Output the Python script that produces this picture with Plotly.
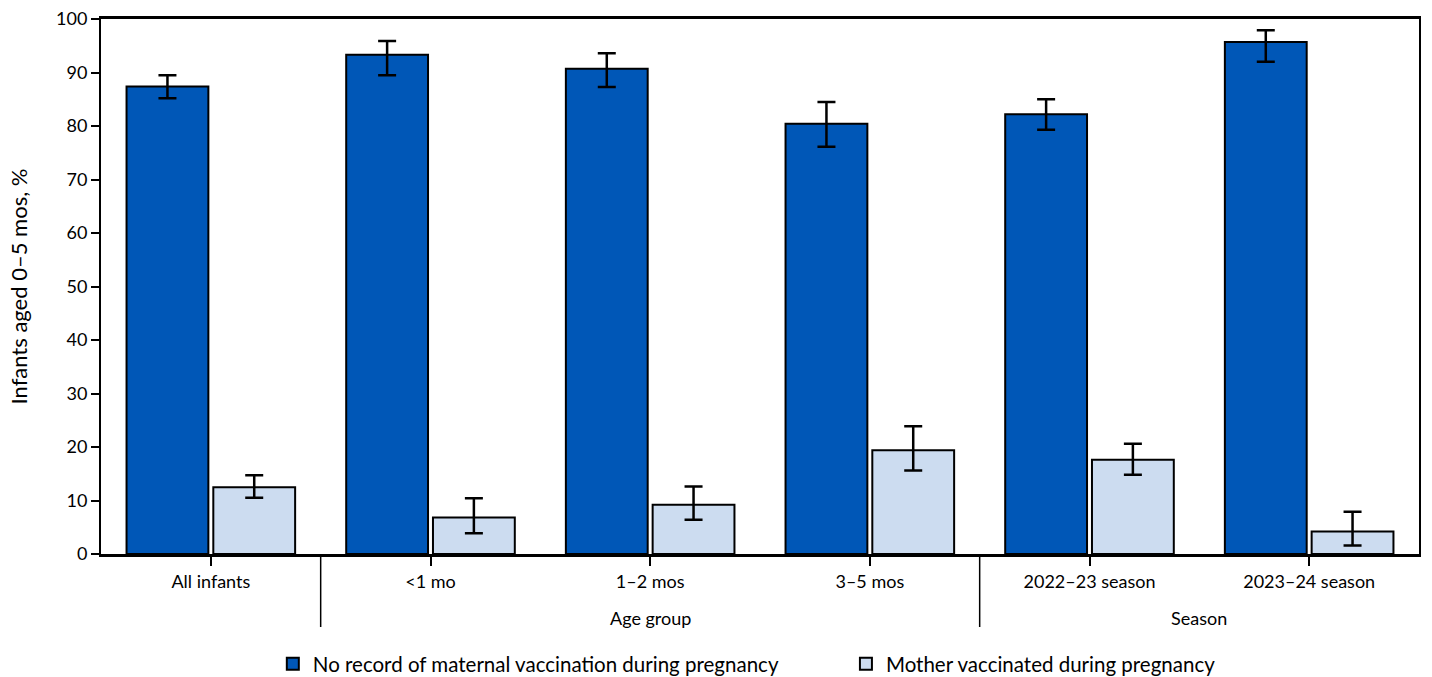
import plotly.graph_objects as go

categories = ["All infants", "<1 mo", "1–2 mos", "3–5 mos", "2022–23 season", "2023–24 season"]
no_record = [87.4, 93.3, 90.7, 80.4, 82.2, 95.7]
no_record_lo = [85.2, 89.5, 87.3, 76.1, 79.3, 92.0]
no_record_hi = [89.5, 95.9, 93.6, 84.5, 85.0, 97.9]
vaccinated = [12.5, 6.8, 9.2, 19.4, 17.6, 4.2]
vaccinated_lo = [10.5, 3.9, 6.4, 15.6, 14.8, 1.6]
vaccinated_hi = [14.7, 10.4, 12.6, 23.9, 20.6, 7.9]
series_names = ["No record of maternal vaccination during pregnancy", "Mother vaccinated during pregnancy"]
group_labels = ["Age group", "Season"]
group_spans = [(1, 3), (4, 5)]  # category index ranges
separators = [0.5, 3.5]
y_ticks = [0, 10, 20, 30, 40, 50, 60, 70, 80, 90, 100]

FONT = "Lato"
DARK = "#0057B7"
LIGHT = "#CCDCF0"

def err(vals, lo, hi):
    return dict(type="data", symmetric=False,
                array=[h - v for v, h in zip(vals, hi)],
                arrayminus=[v - l for v, l in zip(vals, lo)],
                color="black", thickness=2.5, width=9)

fig = go.Figure()
fig.add_trace(go.Bar(x=categories, y=no_record, name=series_names[0] + "\u00a0" * 12,
                     marker=dict(color=DARK, line=dict(color="black", width=2)),
                     error_y=err(no_record, no_record_lo, no_record_hi)))
fig.add_trace(go.Bar(x=categories, y=vaccinated, name=series_names[1],
                     marker=dict(color=LIGHT, line=dict(color="black", width=2)),
                     error_y=err(vaccinated, vaccinated_lo, vaccinated_hi)))

shapes = []
for s in separators:
    shapes.append(dict(type="line", xref="x", yref="paper", x0=s, x1=s, y0=0, y1=-0.1365,
                       line=dict(color="black", width=1.5)))
annotations = []
for lab, (a, b) in zip(group_labels, group_spans):
    annotations.append(dict(text=lab, xref="x", yref="paper", x=(a + b) / 2, y=-0.12,
                            showarrow=False, yanchor="middle",
                            font=dict(family=FONT, size=18, color="black")))

fig.update_layout(
    width=1432, height=677,
    margin=dict(l=101, r=13, t=19, b=123, autoexpand=False),
    plot_bgcolor="white", paper_bgcolor="white",
    barmode="group", bargap=0.21, bargroupgap=0.057,
    font=dict(family=FONT, size=17, color="black"),
    shapes=shapes, annotations=annotations,
    legend=dict(orientation="h", x=0.49, xanchor="center", y=-0.168, yanchor="top",
                font=dict(family=FONT, size=20.5), itemwidth=30,
                traceorder="normal"),
    xaxis=dict(type="category", automargin=False, showline=True, mirror=True, linecolor="black",
               linewidth=3, ticks="outside", ticklen=9, tickwidth=2, tickcolor="black",
               ticklabelstandoff=0,
               showgrid=False, tickfont=dict(family=FONT, size=18)),
    yaxis=dict(range=[0, 100], automargin=False, tickvals=y_ticks, showline=True, mirror=True,
               linecolor="black", linewidth=2, ticks="outside", ticklen=8, tickwidth=2,
               tickcolor="black", showgrid=False, zeroline=False,
               tickfont=dict(family=FONT, size=18),
               title=dict(text="Infants aged 0–5 mos, %", font=dict(family=FONT, size=22),
                          standoff=22)),
)

fig.write_html("out.html", config={"displayModeBar": False},
               post_script="document.body.style.margin='0';document.body.style.overflow='hidden';")
